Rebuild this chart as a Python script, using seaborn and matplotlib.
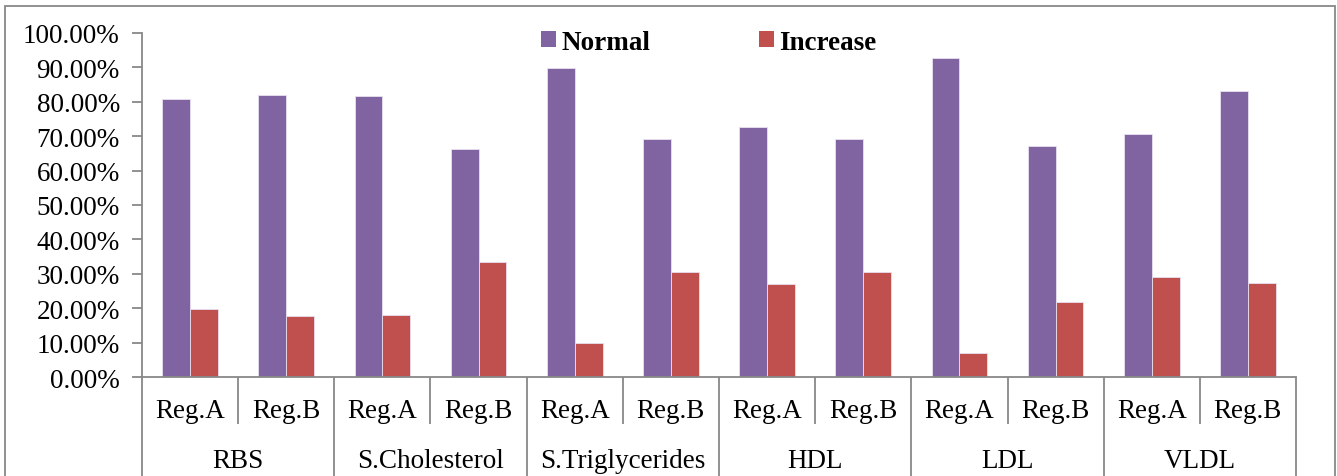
import matplotlib
matplotlib.use("Agg")
import matplotlib.pyplot as plt
from matplotlib.patches import Rectangle
import seaborn as sns
import pandas as pd

categories = ["RBS", "S.Cholesterol", "S.Triglycerides", "HDL", "LDL", "VLDL"]
regions = ["Reg.A", "Reg.B"]
normal = [80.8, 81.9, 81.7, 66.2, 89.8, 69.3, 72.6, 69.3, 92.8, 67.2, 70.6, 83.0]
increase = [19.8, 17.7, 18.0, 33.5, 10.0, 30.4, 27.1, 30.4, 6.9, 21.9, 29.0, 27.2]
series = ["Normal", "Increase"]
colors = ["#8064A2", "#C0504D"]
yticks = list(range(0, 101, 10))

sns.set_theme(style="ticks")
plt.rcParams["font.family"] = ["Liberation Serif", "DejaVu Serif"]
plt.rcParams["text.color"] = "black"
plt.rcParams["xtick.labelcolor"] = "black"
plt.rcParams["ytick.labelcolor"] = "black"

keys = [f"{c}|{r}" for c in categories for r in regions]
df = pd.DataFrame({
    "key": keys * 2,
    "value": normal + increase,
    "series": [series[0]] * len(keys) + [series[1]] * len(keys),
})

W, H = 1337, 477
fig = plt.figure(figsize=(W / 100, H / 100), dpi=100)
ax = fig.add_axes([142 / W, 1 - 378 / H, (1296 - 142) / W, (378 - 34) / H])

sns.barplot(data=df, x="key", y="value", hue="series", order=keys,
            hue_order=series, palette=colors, width=0.58, ax=ax,
            edgecolor="#e8e0f0", linewidth=0.6, saturation=1)

FS = 19.5
ax.set_xlim(-0.5, len(keys) - 0.5)
ax.set_ylim(0, 100)
ax.set_yticks(yticks)
ax.set_yticklabels([f"{v:.2f}%" for v in yticks], fontsize=FS)
ax.set_xticks(range(len(keys)))
ax.set_xticklabels([k.split("|")[1] for k in keys], fontsize=FS)
ax.tick_params(axis="x", length=0, pad=15)
ax.tick_params(axis="y", length=7, width=1.3, color="#888888", pad=9)
ax.set_xlabel("")
ax.set_ylabel("")
for s in ["top", "right"]:
    ax.spines[s].set_visible(False)
for s in ["left", "bottom"]:
    ax.spines[s].set_color("#888888")
    ax.spines[s].set_linewidth(1.3)

trans = ax.get_xaxis_transform()
ax_h = 378 - 34
for i in range(len(keys) + 1):
    x = i - 0.5
    y1 = -47 / ax_h if i % 2 == 1 else -120 / ax_h
    ax.plot([x, x], [0, y1], transform=trans, color="#888888", lw=1.3,
            clip_on=False, solid_capstyle="butt")

for j, c in enumerate(categories):
    ax.text(2 * j + 0.5, -83 / ax_h, c, transform=trans, ha="center",
            va="center", fontsize=FS)

leg = ax.legend(loc="center", bbox_to_anchor=(709 / W, 1 - 43 / H),
                bbox_transform=fig.transFigure, ncol=2, frameon=False,
                prop={"weight": "bold", "size": FS}, handlelength=0.55,
                handleheight=0.55, handletextpad=0.2, columnspacing=4.0,
                borderpad=0)
for h in leg.legend_handles:
    h.set_edgecolor("none")

fig.patches.append(Rectangle((5 / W, -0.2), 1330 / W, 1.2 - 7 / H,
                             transform=fig.transFigure, fill=False,
                             edgecolor="#888888", lw=1.3))

fig.savefig("out.png", dpi=100)
